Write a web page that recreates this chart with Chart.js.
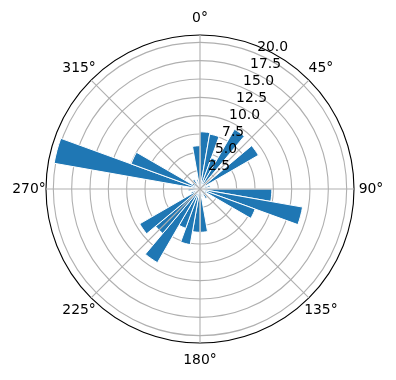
<!DOCTYPE html>
<html>
<head>
<meta charset="utf-8">
<script src="https://cdn.jsdelivr.net/npm/chart.js@4/dist/chart.umd.min.js"></script>
<style>
  html, body { margin: 0; padding: 0; background: #fff; }
</style>
</head>
<body>
<canvas id="roseChart" width="396" height="380"></canvas>
<script>
// direction bins (centre of each 10° sector) and bar lengths
const binCenters = [5, 15, 25, 35, 45, 55, 65, 75, 85, 95, 105, 115,
                    125, 135, 145, 155, 165, 175, 185, 195, 205, 215, 225, 235,
                    245, 255, 265, 275, 285, 295, 305, 315, 325, 335, 345, 355];
const barValues = [7.8, 7.6, 4.5, 9.4, 1.2, 9.2, 0.9, 1.4, 0.7, 9.8, 14.2, 8.0,
                   1.0, 0.6, 1.5, 0.8, 1.1, 5.9, 5.9, 7.7, 5.7, 11.6, 7.9, 9.5,
                   1.3, 0.7, 1.6, 0.9, 20.2, 10.0, 1.2, 0.8, 1.5, 0.6, 1.3, 5.9];
const radialTicks = [2.5, 5.0, 7.5, 10.0, 12.5, 15.0, 17.5, 20.0];
const angleTicks = [0, 45, 90, 135, 180, 225, 270, 315];
const angleLabels = ['0°', '45°', '90°', '135°', '180°', '225°', '270°', '315°'];
const rMax = 21;

const gridColor = '#b0b0b0';
const labelFont = '13.9px "DejaVu Sans"';

const polarDecor = {
    id: 'polarDecor',
    afterDatasetsDraw(chart) {
        const scale = chart.scales.r;
        const ctx = chart.ctx;
        const outer = scale.getDistanceFromCenterForValue(rMax);
        ctx.save();
        ctx.strokeStyle = gridColor;
        ctx.lineWidth = 1.1;
        for (let a of angleTicks) {
            const t = a * Math.PI / 180;
            ctx.beginPath();
            ctx.moveTo(scale.xCenter, scale.yCenter);
            ctx.lineTo(scale.xCenter + outer * Math.sin(t), scale.yCenter - outer * Math.cos(t));
            ctx.stroke();
        }
        ctx.restore();
    },
    afterDraw(chart) {
        const scale = chart.scales.r;
        const ctx = chart.ctx;
        const cx = scale.xCenter, cy = scale.yCenter;
        ctx.save();
        ctx.fillStyle = '#000';
        ctx.font = labelFont;

        // radial tick labels along the 22.5° line
        const la = 22.5 * Math.PI / 180;
        ctx.textAlign = 'left';
        ctx.textBaseline = 'bottom';
        for (let v of radialTicks) {
            const d = scale.getDistanceFromCenterForValue(v);
            ctx.fillText(v.toFixed(1), cx + d * Math.sin(la) + 1, cy - d * Math.cos(la) + 1);
        }

        // angle labels outside the rim
        ctx.textAlign = 'center';
        ctx.textBaseline = 'middle';
        const labelR = scale.getDistanceFromCenterForValue(rMax) + 17;
        angleTicks.forEach((a, i) => {
            const t = a * Math.PI / 180;
            ctx.fillText(angleLabels[i], cx + labelR * Math.sin(t), cy - labelR * Math.cos(t));
        });
        ctx.restore();
    }
};

new Chart(document.getElementById('roseChart'), {
    type: 'polarArea',
    data: {
        labels: binCenters.map(d => d + '°'),
        datasets: [{
            data: barValues,
            backgroundColor: '#1f77b4',
            borderColor: '#ffffff',
            borderWidth: 1
        }]
    },
    options: {
        responsive: false,
        animation: false,
        layout: {
            padding: { left: 46, right: 42, top: 35, bottom: 37 }
        },
        plugins: {
            legend: { display: false },
            tooltip: { enabled: false }
        },
        scales: {
            r: {
                min: 0,
                max: rMax,
                startAngle: 0,
                ticks: { display: false, stepSize: 2.5, z: 1 },
                grid: {
                    circular: true,
                    lineWidth: 1.1,
                    color: (c) => (c.tick && c.tick.value >= rMax) ? '#000000' : gridColor
                },
                angleLines: { display: false },
                pointLabels: { display: false }
            }
        }
    },
    plugins: [polarDecor]
});
</script>
</body>
</html>
